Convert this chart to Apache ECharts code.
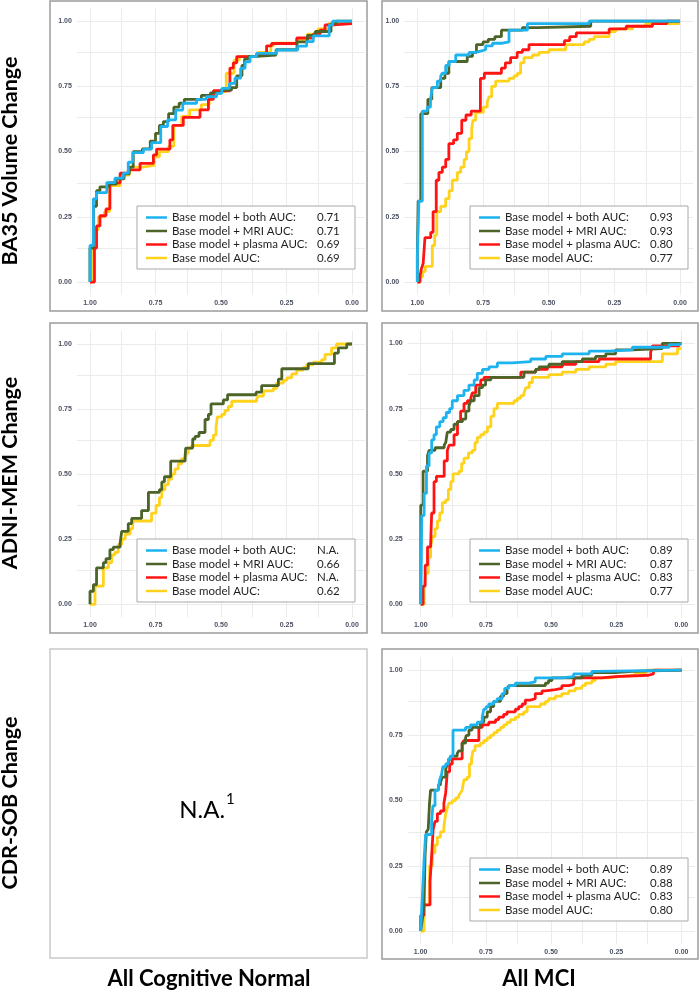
<!DOCTYPE html>
<html>
<head>
<meta charset="utf-8">
<script src="https://cdn.jsdelivr.net/npm/echarts@6/dist/echarts.min.js"></script>
<style>
html,body{margin:0;padding:0;background:#fff;}
#chart{width:699px;height:992px;}
</style>
</head>
<body>
<div id="chart"></div>
<script>
// ---------- DATA ----------
const seriesNames = ['Base model + both AUC:', 'Base model + MRI AUC:', 'Base model + plasma AUC:', 'Base model AUC:'];
const xTickValues = [0, 0.25, 0.5, 0.75, 1];
const yTickValues = [0, 0.25, 0.5, 0.75, 1];
const gridValues = [0, 0.125, 0.25, 0.375, 0.5, 0.625, 0.75, 0.875, 1];
const rowTitles = ['BA35 Volume Change', 'ADNI-MEM Change', 'CDR-SOB Change'];
const colTitles = ['All Cognitive Normal', 'All MCI'];

const aucBa35Cn  = ['0.71', '0.71', '0.69', '0.69'];
const aucBa35Mci = ['0.93', '0.93', '0.80', '0.77'];
const aucMemCn   = ['N.A.', '0.66', 'N.A.', '0.62'];
const aucMemMci  = ['0.89', '0.87', '0.83', '0.77'];
const aucCdrMci  = ['0.89', '0.88', '0.83', '0.80'];

// ROC curves: [specificity, sensitivity] at the top of each step
const ba35CnBoth = [[1,0],[1.000,0.140],[0.987,0.319],[0.975,0.343],[0.936,0.381],[0.905,0.398],[0.873,0.417],[0.854,0.459],[0.837,0.496],[0.796,0.509],[0.765,0.534],[0.730,0.596],[0.704,0.621],[0.673,0.659],[0.646,0.685],[0.593,0.700],[0.557,0.710],[0.517,0.723],[0.497,0.742],[0.468,0.761],[0.447,0.781],[0.425,0.819],[0.408,0.844],[0.389,0.864],[0.364,0.876],[0.288,0.889],[0.207,0.904],[0.173,0.921],[0.148,0.943],[0.087,0.985],[0.074,1.000],[0,1]];
const ba35CnMri = [[1,0],[1.000,0.130],[0.987,0.290],[0.975,0.350],[0.962,0.365],[0.930,0.375],[0.900,0.395],[0.870,0.415],[0.850,0.440],[0.835,0.500],[0.800,0.510],[0.770,0.540],[0.750,0.570],[0.735,0.600],[0.720,0.615],[0.700,0.645],[0.680,0.670],[0.660,0.685],[0.640,0.700],[0.575,0.715],[0.540,0.725],[0.500,0.735],[0.460,0.745],[0.440,0.790],[0.420,0.830],[0.410,0.855],[0.395,0.865],[0.365,0.870],[0.290,0.890],[0.210,0.920],[0.170,0.945],[0.140,0.960],[0.080,0.990],[0.060,1.0],[0,1]];
const ba35CnPlasma = [[1,0],[0.983,0.13],[0.975,0.215],[0.962,0.254],[0.939,0.28],[0.924,0.38],[0.885,0.417],[0.854,0.43],[0.809,0.455],[0.758,0.487],[0.746,0.509],[0.695,0.545],[0.684,0.60],[0.644,0.631],[0.580,0.66],[0.548,0.70],[0.529,0.733],[0.466,0.82],[0.453,0.84],[0.440,0.864],[0.364,0.875],[0.326,0.905],[0.307,0.914],[0.211,0.935],[0.148,0.95],[0.122,0.965],[0.103,0.985],[0.071,0.99],[0,0.99]];
const ba35CnBase = [[1,0],[0.992,0.10],[0.985,0.20],[0.968,0.25],[0.945,0.27],[0.925,0.37],[0.885,0.41],[0.850,0.44],[0.800,0.447],[0.755,0.48],[0.735,0.50],[0.700,0.52],[0.680,0.60],[0.650,0.635],[0.620,0.66],[0.575,0.68],[0.545,0.71],[0.530,0.73],[0.480,0.80],[0.450,0.85],[0.430,0.865],[0.360,0.88],[0.310,0.905],[0.300,0.915],[0.210,0.93],[0.170,0.95],[0.130,0.97],[0.090,0.99],[0,0.99]];

const ba35MciBoth = [[1,0],[1.0,0.10],[0.994,0.31],[0.981,0.655],[0.962,0.67],[0.950,0.70],[0.943,0.745],[0.924,0.77],[0.911,0.79],[0.905,0.80],[0.892,0.83],[0.879,0.845],[0.854,0.87],[0.803,0.88],[0.778,0.885],[0.759,0.89],[0.740,0.905],[0.714,0.915],[0.676,0.92],[0.651,0.965],[0.581,0.99],[0.346,1.0],[0,1]];
const ba35MciMri = [[1,0],[1.0,0.10],[0.997,0.31],[0.987,0.645],[0.960,0.70],[0.945,0.745],[0.911,0.78],[0.895,0.80],[0.880,0.845],[0.810,0.865],[0.790,0.88],[0.775,0.91],[0.750,0.92],[0.730,0.93],[0.705,0.94],[0.680,0.965],[0.600,0.975],[0.540,0.98],[0.340,1.0],[0,1]];
const ba35MciPlasma = [[1,0],[0.990,0.02],[0.985,0.05],[0.978,0.07],[0.971,0.17],[0.949,0.19],[0.940,0.27],[0.928,0.39],[0.918,0.42],[0.905,0.44],[0.892,0.47],[0.880,0.53],[0.862,0.545],[0.848,0.57],[0.831,0.62],[0.815,0.64],[0.795,0.655],[0.760,0.78],[0.745,0.80],[0.680,0.82],[0.665,0.84],[0.645,0.86],[0.620,0.88],[0.600,0.89],[0.575,0.91],[0.440,0.925],[0.420,0.94],[0.395,0.955],[0.270,0.97],[0.205,0.98],[0.105,0.99],[0.050,1.0],[0,1]];
const ba35MciBase = [[1,0],[0.990,0.02],[0.980,0.04],[0.970,0.06],[0.943,0.14],[0.934,0.18],[0.926,0.27],[0.911,0.29],[0.892,0.32],[0.879,0.35],[0.867,0.39],[0.848,0.42],[0.835,0.44],[0.822,0.47],[0.813,0.50],[0.803,0.55],[0.793,0.59],[0.788,0.62],[0.778,0.65],[0.749,0.67],[0.734,0.69],[0.727,0.71],[0.717,0.75],[0.702,0.77],[0.651,0.78],[0.632,0.79],[0.619,0.80],[0.607,0.84],[0.594,0.86],[0.562,0.87],[0.537,0.88],[0.499,0.89],[0.435,0.91],[0.365,0.92],[0.346,0.93],[0.327,0.94],[0.270,0.96],[0.245,0.97],[0.181,0.98],[0.131,0.99],[0,0.99]];

const memCnMri = [[1,0],[1.0,0.05],[0.987,0.075],[0.975,0.14],[0.949,0.16],[0.939,0.175],[0.924,0.21],[0.911,0.22],[0.885,0.235],[0.879,0.28],[0.854,0.31],[0.841,0.33],[0.803,0.36],[0.777,0.43],[0.735,0.44],[0.726,0.47],[0.716,0.49],[0.692,0.55],[0.637,0.56],[0.635,0.60],[0.608,0.635],[0.599,0.645],[0.584,0.66],[0.561,0.71],[0.548,0.73],[0.538,0.77],[0.491,0.785],[0.475,0.805],[0.366,0.815],[0.345,0.84],[0.281,0.865],[0.268,0.905],[0.167,0.925],[0.067,0.965],[0.052,0.985],[0.020,1.0],[0,1]];
const memCnBase = [[1,0],[0.981,0.07],[0.949,0.14],[0.930,0.16],[0.917,0.19],[0.905,0.20],[0.892,0.23],[0.879,0.25],[0.866,0.27],[0.847,0.29],[0.837,0.32],[0.765,0.35],[0.748,0.38],[0.735,0.41],[0.726,0.44],[0.714,0.46],[0.701,0.48],[0.688,0.50],[0.676,0.52],[0.663,0.54],[0.650,0.56],[0.637,0.58],[0.625,0.60],[0.612,0.61],[0.542,0.63],[0.529,0.65],[0.519,0.68],[0.514,0.72],[0.497,0.73],[0.485,0.745],[0.472,0.76],[0.459,0.78],[0.364,0.79],[0.358,0.80],[0.338,0.82],[0.300,0.83],[0.288,0.85],[0.262,0.86],[0.249,0.87],[0.230,0.885],[0.211,0.90],[0.186,0.91],[0.173,0.92],[0.148,0.93],[0.116,0.94],[0.103,0.96],[0.078,0.985],[0.059,1.0],[0,1]];

const memMciBoth = [[1,0],[0.996,0.34],[0.987,0.425],[0.978,0.53],[0.968,0.58],[0.958,0.63],[0.949,0.65],[0.940,0.68],[0.927,0.70],[0.914,0.715],[0.902,0.735],[0.889,0.75],[0.879,0.78],[0.859,0.80],[0.834,0.82],[0.815,0.84],[0.795,0.86],[0.783,0.885],[0.763,0.90],[0.738,0.91],[0.706,0.925],[0.648,0.93],[0.578,0.94],[0.520,0.95],[0.457,0.96],[0.354,0.97],[0.277,0.975],[0.188,0.985],[0.047,0.995],[0.009,1.0],[0,1]];
const memMciMri = [[1,0],[1.0,0.38],[0.991,0.51],[0.974,0.57],[0.968,0.59],[0.945,0.60],[0.910,0.61],[0.904,0.62],[0.898,0.66],[0.885,0.67],[0.872,0.69],[0.859,0.70],[0.840,0.71],[0.827,0.74],[0.815,0.76],[0.808,0.78],[0.795,0.80],[0.776,0.83],[0.763,0.84],[0.751,0.86],[0.731,0.87],[0.604,0.89],[0.559,0.90],[0.546,0.91],[0.508,0.92],[0.457,0.93],[0.380,0.94],[0.329,0.95],[0.290,0.96],[0.252,0.975],[0.188,0.98],[0.073,1.0],[0,1]];
const memMciPlasma = [[1,0],[0.991,0.07],[0.983,0.15],[0.974,0.22],[0.962,0.23],[0.958,0.35],[0.949,0.47],[0.940,0.49],[0.910,0.55],[0.898,0.59],[0.891,0.61],[0.872,0.65],[0.859,0.70],[0.847,0.74],[0.834,0.77],[0.821,0.78],[0.808,0.79],[0.802,0.81],[0.789,0.84],[0.770,0.86],[0.757,0.87],[0.616,0.89],[0.559,0.90],[0.514,0.91],[0.457,0.92],[0.405,0.93],[0.316,0.94],[0.118,0.965],[0.111,0.99],[0.009,1.0],[0,1]];
const memMciBase = [[1,0],[0.987,0.06],[0.981,0.12],[0.971,0.18],[0.962,0.22],[0.955,0.26],[0.945,0.29],[0.936,0.32],[0.927,0.35],[0.917,0.39],[0.904,0.40],[0.894,0.44],[0.885,0.47],[0.876,0.50],[0.853,0.51],[0.843,0.54],[0.834,0.56],[0.817,0.58],[0.802,0.59],[0.792,0.62],[0.783,0.64],[0.770,0.65],[0.757,0.66],[0.744,0.68],[0.731,0.72],[0.719,0.75],[0.706,0.77],[0.642,0.78],[0.629,0.79],[0.616,0.80],[0.604,0.81],[0.597,0.83],[0.584,0.85],[0.572,0.87],[0.508,0.88],[0.457,0.89],[0.405,0.90],[0.354,0.91],[0.290,0.92],[0.252,0.93],[0.073,0.96],[0.015,0.98],[0,0.98]];

const cdrMciBoth = [[1,0],[0.994,0.12],[0.987,0.27],[0.981,0.37],[0.958,0.42],[0.953,0.48],[0.945,0.54],[0.932,0.55],[0.927,0.58],[0.920,0.60],[0.915,0.63],[0.904,0.64],[0.894,0.66],[0.885,0.67],[0.876,0.77],[0.828,0.78],[0.809,0.79],[0.783,0.80],[0.764,0.82],[0.758,0.85],[0.749,0.86],[0.739,0.87],[0.720,0.88],[0.707,0.89],[0.688,0.91],[0.678,0.93],[0.662,0.94],[0.637,0.95],[0.586,0.955],[0.561,0.97],[0.459,0.975],[0.414,0.985],[0.344,0.995],[0.331,1.0],[0,1]];
const cdrMciMri = [[1,0],[0.994,0.04],[0.987,0.10],[0.983,0.29],[0.978,0.38],[0.971,0.39],[0.966,0.49],[0.962,0.54],[0.932,0.56],[0.924,0.57],[0.917,0.59],[0.904,0.62],[0.898,0.64],[0.892,0.65],[0.885,0.67],[0.860,0.68],[0.854,0.69],[0.841,0.72],[0.828,0.74],[0.825,0.75],[0.815,0.77],[0.803,0.78],[0.771,0.80],[0.758,0.82],[0.745,0.84],[0.732,0.86],[0.720,0.88],[0.694,0.90],[0.682,0.91],[0.669,0.93],[0.662,0.94],[0.522,0.95],[0.510,0.96],[0.497,0.97],[0.382,0.98],[0.344,0.99],[0.255,0.995],[0.191,1.0],[0,1]];
const cdrMciPlasma = [[1,0],[1.0,0.06],[0.987,0.10],[0.964,0.19],[0.959,0.27],[0.952,0.39],[0.945,0.42],[0.936,0.45],[0.924,0.46],[0.911,0.49],[0.904,0.53],[0.898,0.61],[0.889,0.64],[0.879,0.66],[0.841,0.72],[0.834,0.73],[0.777,0.78],[0.764,0.79],[0.739,0.80],[0.713,0.81],[0.701,0.82],[0.682,0.83],[0.669,0.84],[0.637,0.85],[0.624,0.86],[0.611,0.87],[0.599,0.885],[0.580,0.89],[0.561,0.91],[0.535,0.92],[0.522,0.925],[0.484,0.93],[0.459,0.94],[0.433,0.945],[0.414,0.96],[0.408,0.97],[0.306,0.975],[0.255,0.98],[0.127,0.985],[0.108,0.99],[0.108,1.0],[0,1]];
const cdrMciBase = [[1,0],[0.987,0.10],[0.966,0.25],[0.955,0.30],[0.945,0.33],[0.936,0.36],[0.924,0.38],[0.911,0.40],[0.904,0.45],[0.898,0.47],[0.892,0.49],[0.879,0.50],[0.866,0.51],[0.854,0.52],[0.847,0.53],[0.841,0.54],[0.834,0.58],[0.822,0.59],[0.813,0.64],[0.805,0.66],[0.800,0.69],[0.792,0.71],[0.771,0.72],[0.758,0.73],[0.745,0.74],[0.732,0.75],[0.720,0.76],[0.707,0.77],[0.694,0.78],[0.682,0.79],[0.669,0.80],[0.656,0.81],[0.637,0.82],[0.624,0.83],[0.605,0.84],[0.592,0.86],[0.541,0.87],[0.522,0.88],[0.510,0.89],[0.484,0.90],[0.459,0.91],[0.433,0.92],[0.408,0.93],[0.382,0.94],[0.369,0.95],[0.344,0.96],[0.331,0.97],[0.280,0.975],[0.242,0.98],[0.178,0.99],[0.140,0.995],[0.134,1.0],[0,1]];

// ---------- LAYOUT / STYLE ----------
const colors = ['#1db3ee', '#4c6428', '#ff1414', '#ffd21c'];
const panels = [
  { grid: {left: 76.9, top: 8, width: 288.2, height: 287.1}, curves: [ba35CnBoth, ba35CnMri, ba35CnPlasma, ba35CnBase], auc: aucBa35Cn, legend: {left: 137, top: 206} },
  { grid: {left: 404.2, top: 8, width: 289, height: 287.1}, curves: [ba35MciBoth, ba35MciMri, ba35MciPlasma, ba35MciBase], auc: aucBa35Mci, legend: {left: 470, top: 206} },
  { grid: {left: 76.9, top: 331, width: 288.2, height: 286.3}, curves: [null, memCnMri, null, memCnBase], auc: aucMemCn, legend: {left: 137, top: 539} },
  { grid: {left: 407.7, top: 330.3, width: 286.7, height: 287.1}, curves: [memMciBoth, memMciMri, memMciPlasma, memMciBase], auc: aucMemMci, legend: {left: 470, top: 539} },
  { grid: {left: 407.6, top: 657, width: 287.1, height: 287.1}, curves: [cdrMciBoth, cdrMciMri, cdrMciPlasma, cdrMciBase], auc: aucCdrMci, legend: {left: 470, top: 858} }
];
const frames = [
  {x: 50, y: 1, w: 317, h: 310, c: '#9c9c9c'},
  {x: 382, y: 1, w: 316, h: 310, c: '#9c9c9c'},
  {x: 50, y: 323, w: 317, h: 310, c: '#9c9c9c'},
  {x: 382, y: 323, w: 316, h: 310, c: '#9c9c9c'},
  {x: 50, y: 649, w: 317, h: 309, c: '#c9c9c9'},
  {x: 382, y: 649, w: 316, h: 310, c: '#9c9c9c'}
];

const labelStyle = {fontSize: 7, fontWeight: 'bold', color: '#4a5060', fontFamily: 'Liberation Sans'};
const grids = [], xAxes = [], yAxes = [], series = [], legends = [];

panels.forEach((p, i) => {
  grids.push(Object.assign({}, p.grid));
  xAxes.push({
    type: 'value', gridIndex: i, min: -0.05, max: 1.05, inverse: true,
    axisLine: {show: false}, axisTick: {show: false}, splitLine: {show: false},
    axisLabel: Object.assign({customValues: xTickValues, margin: 4, formatter: v => v.toFixed(2)}, labelStyle)
  });
  yAxes.push({
    type: 'value', gridIndex: i, min: -0.05, max: 1.05,
    axisLine: {show: false}, axisTick: {show: false}, splitLine: {show: false},
    axisLabel: Object.assign({customValues: yTickValues, margin: 5, formatter: v => v.toFixed(2)}, labelStyle)
  });
  // background grid lines
  series.push({
    type: 'line', name: 'grid' + i, xAxisIndex: i, yAxisIndex: i, data: [], z: 1, silent: true,
    markLine: {
      silent: true, symbol: 'none', z: 1, animation: false,
      label: {show: false}, emphasis: {disabled: true},
      lineStyle: {color: '#ebebeb', type: 'solid', width: 1},
      data: gridValues.map(v => ({xAxis: v})).concat(gridValues.map(v => ({yAxis: v})))
    }
  });
  [3, 2, 1, 0].forEach(k => {
    if (!p.curves[k]) return;
    series.push({
      type: 'line', name: seriesNames[k], xAxisIndex: i, yAxisIndex: i,
      data: p.curves[k], step: 'end', showSymbol: false, symbol: 'none',
      lineStyle: {color: colors[k], width: 2.8}, itemStyle: {color: colors[k]},
      emphasis: {disabled: true}, z: 3, animation: false
    });
  });
  const auc = p.auc;
  legends.push({
    data: seriesNames, orient: 'vertical', left: p.legend.left, top: p.legend.top,
    selectedMode: false, icon: 'rect', itemWidth: 21, itemHeight: 2.5, itemGap: 1.5,
    padding: [5.5, 8, 5, 9], borderColor: '#a8a8a8', borderWidth: 1, backgroundColor: '#ffffff',
    formatter: name => '{n|' + name + '}{v|' + auc[seriesNames.indexOf(name)] + '}',
    textStyle: {
      fontFamily: 'Lato', fontSize: 11.5, color: '#1e1e1e',
      rich: {
        n: {width: 145, fontFamily: 'Lato', fontSize: 11.5, lineHeight: 13, color: '#1e1e1e'},
        v: {width: 30, fontFamily: 'Lato', fontSize: 11.5, lineHeight: 13, color: '#1e1e1e'}
      }
    }
  });
});

const graphics = frames.map(f => ({
  type: 'rect', shape: {x: f.x, y: f.y, width: f.w, height: f.h},
  style: {fill: 'none', stroke: f.c, lineWidth: 1.5}, z: 0, silent: true
}));
const rowCenters = [161, 473, 803];
rowTitles.forEach((t, i) => graphics.push({
  type: 'text', x: 10, y: rowCenters[i], rotation: Math.PI / 2, silent: true,
  style: {text: t, fontFamily: 'Lato', fontWeight: 'bold', fontSize: 21.5, fill: '#000', align: 'center', verticalAlign: 'middle'}
}));
const colCenters = [209, 539];
colTitles.forEach((t, i) => graphics.push({
  type: 'text', x: colCenters[i], y: 979, silent: true,
  style: {text: t, fontFamily: 'Lato', fontWeight: 'bold', fontSize: 22, fill: '#000', align: 'center', verticalAlign: 'middle'}
}));
graphics.push({
  type: 'text', x: 207, y: 807, silent: true,
  style: {
    text: '{a|N.A.}{s|1}', align: 'center', verticalAlign: 'middle',
    rich: {
      a: {fontFamily: 'Lato', fontSize: 24, fill: '#000', lineHeight: 30, verticalAlign: 'bottom'},
      s: {fontFamily: 'Lato', fontSize: 15, fill: '#000', lineHeight: 30, verticalAlign: 'top', padding: [0, 0, 0, 1]}
    }
  }
});

const chart = echarts.init(document.getElementById('chart'), null, {renderer: 'canvas'});
chart.setOption({
  animation: false,
  backgroundColor: '#ffffff',
  grid: grids, xAxis: xAxes, yAxis: yAxes,
  legend: legends, series: series, graphic: graphics
});
</script>
</body>
</html>
